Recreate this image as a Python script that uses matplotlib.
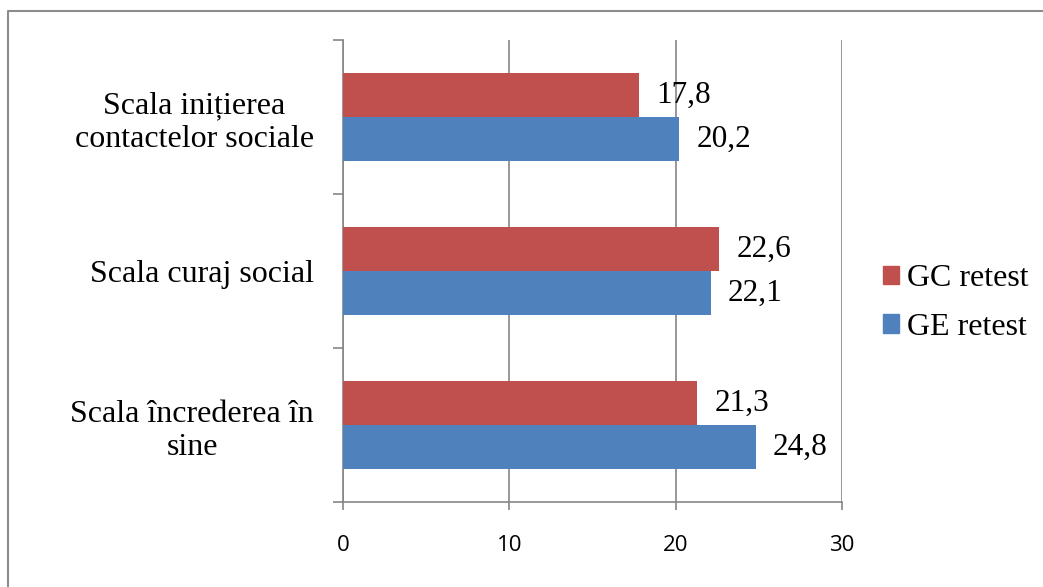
import matplotlib.pyplot as plt
from matplotlib.lines import Line2D
import numpy as np

categories = ["Scala încrederea în\nsine", "Scala curaj social",
              "Scala inițierea\ncontactelor sociale"]
gc_retest = [21.3, 22.6, 17.8]
ge_retest = [24.8, 22.1, 20.2]
series_names = ["GC retest", "GE retest"]
xticks = [0, 10, 20, 30]

red = "#C0504D"
blue = "#4F81BD"
grey = "#868686"
serif = "Liberation Serif"

fig = plt.figure(figsize=(10.43, 5.87), dpi=100)
ax = fig.add_axes([343 / 1043, 1 - 502 / 587, 499 / 1043, 462 / 587])

y = np.arange(len(categories))
h = 0.286
ax.barh(y + h / 2, gc_retest, height=h, color=red, label=series_names[0], zorder=3)
ax.barh(y - h / 2, ge_retest, height=h, color=blue, label=series_names[1], zorder=3)

for yi, v in zip(y, gc_retest):
    ax.text(v + 1.05, yi + h / 2, f"{v:.1f}".replace(".", ","), va="center",
            ha="left", fontsize=22.5, family=serif, zorder=4)
for yi, v in zip(y, ge_retest):
    ax.text(v + 1.05, yi - h / 2, f"{v:.1f}".replace(".", ","), va="center",
            ha="left", fontsize=22.5, family=serif, zorder=4)

ax.set_xlim(0, 30)
ax.set_ylim(-0.5, 2.5)
ax.set_xticks(xticks)
ax.set_xticklabels([str(t) for t in xticks], family="Open Sans", fontsize=16)
ax.grid(axis="x", color=grey, linewidth=1.2, zorder=0)

ax.set_yticks([-0.5, 0.5, 1.5, 2.5])
ax.set_yticklabels([])
ax.set_yticks(y, minor=True)
ax.set_yticklabels(categories, minor=True, family=serif, fontsize=23,
                   ha="right", multialignment="center", linespacing=1.2)
ax.tick_params(axis="y", which="minor", length=0, pad=21)
ax.tick_params(axis="y", which="major", length=7, color=grey, width=1.2)
ax.tick_params(axis="x", length=6, color=grey, width=1.2, pad=18)

for s in ["top", "right"]:
    ax.spines[s].set_visible(False)
for s in ["left", "bottom"]:
    ax.spines[s].set_color(grey)
    ax.spines[s].set_linewidth(1.2)

handles = [plt.Rectangle((0, 0), 1, 1, color=red),
           plt.Rectangle((0, 0), 1, 1, color=blue)]
fig.legend(handles, series_names, loc="center left",
           bbox_to_anchor=(883 / 1043, 1 - 303 / 587), frameon=False,
           borderpad=0, borderaxespad=0,
           prop={"family": serif, "size": 23}, handlelength=0.5,
           handleheight=0.5, handletextpad=0.25, labelspacing=0.62)

# outer chart frame (only top and left edges are inside the picture)
fig.add_artist(Line2D([8 / 1043, 8 / 1043, 1.0], [0.0, 1 - 10.5 / 587, 1 - 10.5 / 587],
                      transform=fig.transFigure, color="#8C8C8C", linewidth=1.5))

fig.savefig("out.png", dpi=100)
